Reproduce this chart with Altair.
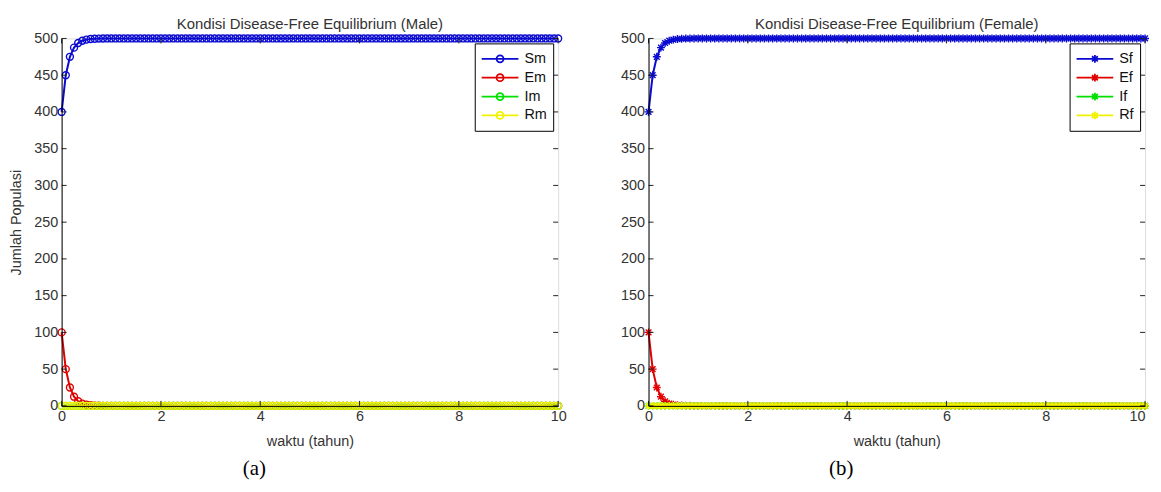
import altair as alt
import numpy as np
import pandas as pd

FONT = "Liberation Sans"
N = 121
time = [float(v) for v in np.linspace(0, 10, N)]

# Male
sm_head = [400, 450, 475, 487.5, 493.8, 496.9, 498.4, 499.2, 499.6, 499.8, 499.9]
em_head = [100, 50, 25, 12.5, 6.3, 3.1, 1.6, 0.8, 0.4, 0.2, 0.1]
Sm = sm_head + [500.0] * (N - len(sm_head))
Em = em_head + [0.0] * (N - len(em_head))
Im = [0.0] * N
Rm = [0.0] * N

# Female
sf_head = [400, 450, 475, 487.5, 493.8, 496.9, 498.4, 499.2, 499.6, 499.8, 499.9]
ef_head = [100, 50, 25, 12.5, 6.3, 3.1, 1.6, 0.8, 0.4, 0.2, 0.1]
Sf = sf_head + [500.0] * (N - len(sf_head))
Ef = ef_head + [0.0] * (N - len(ef_head))
If_ = [0.0] * N
Rf = [0.0] * N

male_names = ["Sm", "Em", "Im", "Rm"]
female_names = ["Sf", "Ef", "If", "Rf"]
COLORS = ["#0a0ad0", "#e00000", "#00e000", "#f2f200"]

x_ticks = [0, 2, 4, 6, 8, 10]
y_ticks = [0, 50, 100, 150, 200, 250, 300, 350, 400, 450, 500]

W, H = 500, 370
TXT = "#333333"

CIRCLE_LEG = "M-1,0L1,0M-0.19,0A0.19,0.19,0,1,1,0.19,0A0.19,0.19,0,1,1,-0.19,0Z"
STAR_LEG = "M-1,0L1,0M0,-0.21L0,0.21M-0.16,-0.14L0.16,0.14M-0.16,0.14L0.16,-0.14"
STAR = "M-1,0L1,0M0,-1L0,1M-0.72,-0.72L0.72,0.72M-0.72,0.72L0.72,-0.72"


def panel(names, series, shape, msize, leg_path, title, ytitle, caption, flush_end):
    rows = []
    for nm, vals in zip(names, series):
        for t, v in zip(time, vals):
            rows.append({"t": t, "val": v, "series": nm})
    df = pd.DataFrame(rows)

    xscale = alt.Scale(domain=[0, 10], nice=False, zero=False)
    yscale = alt.Scale(domain=[0, 500], nice=False)
    axis_common = dict(
        ticks=False, grid=False, labelFlush=False, labelOverlap=False,
        domainColor="black", domainWidth=1, labelFont=FONT, labelFontSize=14.5,
        labelColor=TXT, titleFont=FONT, titleFontSize=14.5, titleFontWeight="normal",
        titleColor=TXT, zindex=1, format="d",
    )
    xaxis_kw = dict(values=x_ticks, labelPadding=4, titlePadding=11, **axis_common)
    if flush_end:
        xaxis_kw["labelAlign"] = {"condition": {"test": "datum.value >= 10", "value": "right"},
                                  "value": "center"}
    x = alt.X("t:Q", scale=xscale, title="waktu (tahun)", axis=alt.Axis(**xaxis_kw))
    yaxis = alt.Axis(values=y_ticks, labelPadding=4, titlePadding=10, **axis_common)
    y = alt.Y("val:Q", scale=yscale, title=ytitle if ytitle else None, axis=yaxis)

    color = alt.Color(
        "series:N",
        scale=alt.Scale(domain=names, range=COLORS),
        legend=alt.Legend(
            title=None, orient="top-right", offset=5, strokeColor="black",
            fillColor="white", padding=6, symbolType=leg_path, symbolSize=1369,
            symbolStrokeWidth=1.8, symbolFillColor="transparent",
            labelFont=FONT, labelFontSize=14.5, labelColor="#111111",
            clipHeight=19, rowPadding=0, symbolOffset=0, labelOffset=5,
            cornerRadius=0,
        ),
    )

    layers = []
    for nm in names:
        base = alt.Chart(df).transform_filter(alt.datum.series == nm)
        layers.append(base.mark_line(strokeWidth=2, clip=False).encode(x=x, y=y, color=color))
        layers.append(
            base.mark_point(shape=shape, size=msize, filled=False, strokeWidth=1.4,
                            opacity=1, clip=False).encode(x=x, y=y, color=color)
        )

    ydf = pd.DataFrame({"val": y_ticks})
    xdf = pd.DataFrame({"t": x_ticks})
    tick_style = dict(color="#222222", strokeWidth=1)
    layers.append(alt.Chart(ydf).mark_rule(**tick_style).encode(
        y=y, x=alt.value(0), x2=alt.value(5)))
    layers.append(alt.Chart(ydf).mark_rule(**tick_style).encode(
        y=y, x=alt.value(W - 5), x2=alt.value(W)))
    layers.append(alt.Chart(xdf).mark_rule(**tick_style).encode(
        x=x, y=alt.value(H - 5), y2=alt.value(H)))
    layers.append(alt.Chart(xdf).mark_rule(**tick_style).encode(
        x=x, y=alt.value(0), y2=alt.value(5)))

    cap = pd.DataFrame({"c": [caption]})
    layers.append(alt.Chart(cap).mark_text(
        font="Liberation Serif", fontSize=21, color="black",
        align="center", baseline="middle").encode(
        text="c:N", x=alt.value(194), y=alt.value(434)))

    return alt.layer(*layers).properties(
        width=W, height=H,
        title=alt.TitleParams(title, font=FONT, fontSize=15, fontWeight="normal",
                              color=TXT, offset=-1, anchor="middle"),
    )


left = panel(male_names, [Sm, Em, Im, Rm], "circle", 49, CIRCLE_LEG,
             "Kondisi Disease-Free Equilibrium (Male)", "Jumlah Populasi", "(a)", False)
right = panel(female_names, [Sf, Ef, If_, Rf], STAR, 64, STAR_LEG,
              "Kondisi Disease-Free Equilibrium (Female)", None, "(b)", True)

chart = (
    alt.hconcat(left, right, spacing=53)
    .resolve_scale(color="independent")
    .resolve_legend(color="independent")
    .properties(padding={"left": 0, "top": 6, "right": 0, "bottom": 0})
    .configure_view(stroke="black", strokeWidth=1)
    .configure_axis(labelOverlap=False)
    .configure(background="white")
)

chart.save("out.html", embed_options={"renderer": "svg", "actions": False})
